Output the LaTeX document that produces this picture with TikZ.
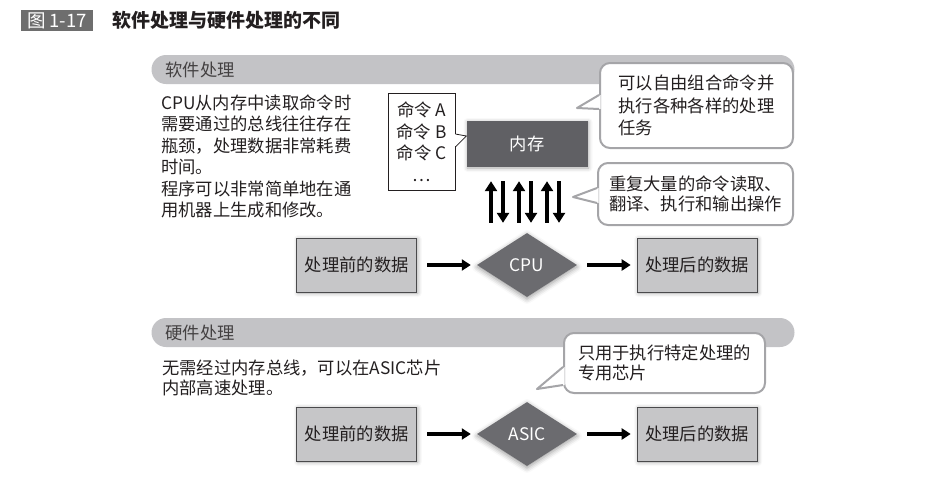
\documentclass[tikz,border=0pt]{standalone}
\usepackage{fontspec}
\setmainfont{Noto Sans CJK SC}
\usepackage{xcolor}
\usepackage{tikz}
\usetikzlibrary{positioning, shapes.geometric, arrows.meta, shadows.blur, calc}

\definecolor{ink}{HTML}{231F20}
\definecolor{bandgray}{HTML}{C3C3C6}
\definecolor{boxgray}{HTML}{C6C6C8}
\definecolor{boxline}{HTML}{4A4A4C}
\definecolor{procgray}{HTML}{6B6B6F}
\definecolor{memgray}{HTML}{606064}
\definecolor{notegray}{HTML}{A5A5A8}
\definecolor{tagbg}{HTML}{6E6E6E}

\begin{document}
\begin{tikzpicture}[x=1pt, y=-1pt, node distance=59.5pt,
  every node/.style={font=\fontsize{17.3}{21.5}\selectfont, text=ink},
  band/.style={fill=bandgray, rounded corners=14.5pt, minimum width=643pt, minimum height=29pt,
    text width=615pt, align=left, inner xsep=14pt, inner ysep=0pt, text=ink!85},
  databox/.style={draw=boxline, line width=1pt, fill=boxgray, minimum width=120pt, minimum height=54pt,
    blur shadow={shadow blur radius=4pt, shadow xshift=1pt, shadow yshift=-1pt, shadow opacity=35}},
  proc/.style={diamond, fill=procgray, text=white, aspect=1.56, minimum width=100pt, minimum height=64pt,
    inner sep=0pt, blur shadow={shadow blur radius=5pt, shadow xshift=0pt, shadow yshift=-2pt, shadow opacity=40}},
  note/.style={draw=notegray, line width=2pt, fill=white, rounded corners=10pt, align=left, inner sep=0pt},
  pointer/.style={draw=notegray, line width=2pt, line join=round},
  flow/.style={-{Triangle[length=9pt, width=11pt]}, line width=3.5pt, shorten <=10pt, shorten >=6pt},
  bus/.style={-{Triangle[length=10pt, width=12pt]}, line width=4pt}]
\useasboundingbox (0,0) rectangle (947,483);

% Encabezado
\node[fill=tagbg, text=white, minimum width=72pt, minimum height=21pt, inner sep=0pt,
  font=\fontsize{18.5}{18.5}\selectfont] (tag) at (57,20.5) {图 1-17};
\node[right=19pt of tag, inner sep=0pt, font=\fontsize{19}{19}\selectfont\bfseries] (title) {软件处理与硬件处理的不同};

% Software
\node[band] (swband) at (473,69.5) {软件处理};
\node[anchor=north west, align=left, inner sep=0pt] (swtext) at (161,94.5)
  {CPU从内存中读取命令时\\需要通过的总线往往存在\\瓶颈，处理数据非常耗费\\时间。\\程序可以非常简单地在通\\用机器上生成和修改。};

\node[fill=memgray, text=white, minimum width=121pt, minimum height=46pt,
  blur shadow={shadow blur radius=4pt, shadow xshift=1pt, shadow yshift=-1pt, shadow opacity=35}] (mem) at (527,144) {内存};
\node[draw=ink, line width=0.8pt, fill=white, minimum width=67pt, minimum height=97pt, align=center, inner sep=0pt]
  (cmds) at (421.5,141.5) {命令 A\\命令 B\\命令 C\\…};
\coordinate (tip0) at ($(mem.west)+(0,-8)$);
\fill[white] ($(cmds.east)+(-1,-7.5)$) -- (tip0) -- ($(cmds.east)+(-1,5.5)$) -- cycle;
\draw[ink, line width=0.8pt] ($(cmds.east)+(0,-7.5)$) -- (tip0) -- ($(cmds.east)+(0,5.5)$);

\node[proc] (cpu) at (527,265) {CPU};
\node[databox, left=of cpu] (swin) {处理前的数据};
\node[databox, right=of cpu] (swout) {处理后的数据};
\draw[flow] (swin) -- (cpu);
\draw[flow] (cpu) -- (swout);

\foreach \dx in {-36,-8,20} {
  \draw[bus, shorten <=10pt, shorten >=14pt] ([xshift=\dx pt]cpu.north) -- ([xshift=\dx pt]mem.south);
  \draw[bus, shorten <=14pt, shorten >=10pt] ([xshift=\dx pt+12pt]mem.south) -- ([xshift=\dx pt+12pt]cpu.north);
}

\node[note, minimum width=193pt, minimum height=85pt, font=\fontsize{17.3}{22.5}\selectfont]
  (note1) at (696.5,105.5) {可以自由组合命令并\\执行各种各样的处理\\任务};
\coordinate (tip1) at (577,108);
\fill[white] ($(note1.west)+(1.5,-10.5)$) -- (tip1) -- ($(note1.west)+(1.5,3.5)$) -- cycle;
\draw[pointer] ($(note1.west)+(0,-10.5)$) -- (tip1) -- ($(note1.west)+(0,3.5)$);

\node[note, minimum width=195pt, minimum height=62pt, font=\fontsize{17.3}{20}\selectfont]
  (note2) at (695.5,194) {重复大量的命令读取、\\翻译、执行和输出操作};
\coordinate (tip2) at (573,197);
\fill[white] ($(note2.west)+(1.5,-6)$) -- (tip2) -- ($(note2.west)+(1.5,9)$) -- cycle;
\draw[pointer] ($(note2.west)+(0,-6)$) -- (tip2) -- ($(note2.west)+(0,9)$);

% Hardware
\node[band] (hwband) at (473,332.5) {硬件处理};
\node[anchor=north west, align=left, inner sep=0pt, font=\fontsize{17.3}{20}\selectfont] (hwtext) at (162,359.5)
  {无需经过内存总线，可以在ASIC芯片\\内部高速处理。};

\node[proc] (asic) at (527,434) {ASIC};
\node[databox, left=of asic] (hwin) {处理前的数据};
\node[databox, right=of asic] (hwout) {处理后的数据};
\draw[flow] (hwin) -- (asic);
\draw[flow] (asic) -- (hwout);

\node[note, minimum width=201pt, minimum height=60pt, font=\fontsize{17.3}{20}\selectfont]
  (note3) at (664.5,363) {只用于执行特定处理的\\专用芯片};
\coordinate (tip3) at (537,389);
\fill[white] ($(note3.west)+(1.5,4)$) -- (tip3) -- ($(note3.west)+(1.5,22)$) -- cycle;
\draw[pointer] ($(note3.west)+(0,4)$) -- (tip3) -- ($(note3.west)+(0,22)$);
\end{tikzpicture}
\end{document}
